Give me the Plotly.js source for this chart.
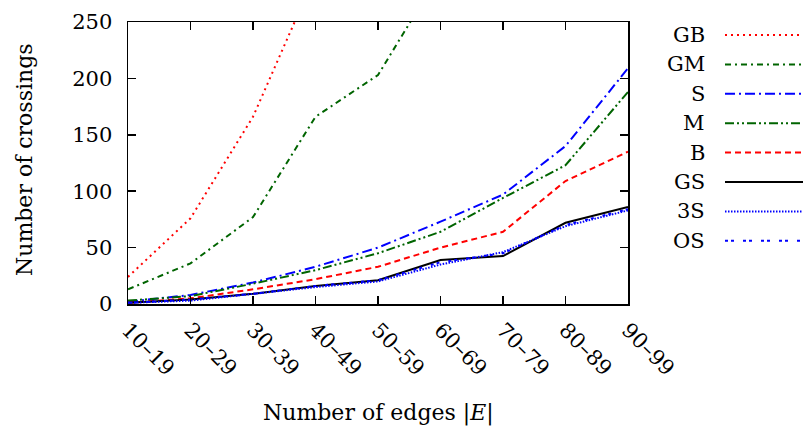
<!DOCTYPE html>
<html><head><meta charset="utf-8">
<script src="https://cdn.plot.ly/plotly-3.0.1.min.js"></script>
<style>body{margin:0;background:#fff}#c{width:804px;height:441px}</style>
</head><body><div id="c"></div>
<script>
const categories = ["10–19","20–29","30–39","40–49","50–59","60–69","70–79","80–89","90–99"];
const GB = [24, 76, 166, 292, null, null, null, null, null];
const GM = [13, 36, 77, 166, 203, 294, null, null, null];
const S  = [2, 8, 19, 33, 50, 73, 97, 140, 209];
const M  = [3, 7, 18, 30, 45, 64, 94, 123, 188];
const B  = [1, 5, 13, 22, 33, 50, 64, 109, 135];
const GS = [1, 4, 9, 16, 21, 39, 42.5, 72, 86];
const S3 = [1, 3, 9, 15, 20, 35, 46, 69, 83];
const OS = [1, 4, 9, 16, 21, 37, 45, 70, 84];

const seriesNames = ["GB","GM","S","M","B","GS","3S","OS"];
const seriesData = [GB, GM, S, M, B, GS, S3, OS];
const xTitle = "Number of edges |<i>E</i>|";
const yTitle = "Number of crossings";
const styles = [
  {color:"#ff0000", dash:"2px,4px", width:2},
  {color:"#006400", dash:"6px,4px,2px,4px", width:2},
  {color:"#0000ff", dash:"10px,4px,2px,4px", width:2},
  {color:"#006400", dash:"9px,3px,2px,3px,2px,3px", width:2},
  {color:"#ff0000", dash:"6px,4px", width:2},
  {color:"#000000", dash:"solid", width:2},
  {color:"#0000ff", dash:"1.5px,1.5px", width:2},
  {color:"#0000ff", dash:"3px,3px,3px,9px", width:2}
];

const traces = seriesData.map((d,i)=>({
  x: categories, y: d, type:"scatter", mode:"lines", name: seriesNames[i],
  line:{color:styles[i].color, dash:styles[i].dash, width:styles[i].width},
  connectgaps:false, showlegend:false
}));

const font = {family:"DejaVu Serif", size:21, color:"#000"};
const tfont = {family:"DejaVu Serif", size:22, color:"#000"};
const shapes = [], annotations = [];
const legTop = 35, legStep = 29.4;
seriesNames.forEach((n,i)=>{
  const ypx = legTop + i*legStep;
  const yp = (304 - ypx)/282;
  shapes.push({type:"line", xref:"paper", yref:"paper", x0:(725-128)/500, x1:(803-128)/500, y0:yp, y1:yp,
    line:{color:styles[i].color, dash:styles[i].dash, width:2}});
  annotations.push({xref:"paper", yref:"paper", x:(707-128)/500, y:yp, xanchor:"right", yanchor:"middle",
    text:n, showarrow:false, font:font});
});
annotations.push({xref:"paper", yref:"paper", x:0.5, y:(304-413)/282, xanchor:"center", yanchor:"middle",
  text:xTitle, showarrow:false, font:tfont});
annotations.push({xref:"paper", yref:"paper", x:(24-128)/500, y:(304-160)/282, xanchor:"center", yanchor:"middle",
  text:yTitle, textangle:-90, showarrow:false, font:tfont});

const layout = {
  width:804, height:441,
  margin:{l:128, r:176, t:22, b:137},
  paper_bgcolor:"#fff", plot_bgcolor:"#fff",
  font: font,
  showlegend:false,
  xaxis:{
    type:"category", range:[0,8], tickangle:45,
    ticks:"inside", ticklen:8, tickwidth:1.5, tickcolor:"#000",
    showline:true, linecolor:"#000", linewidth:1.5, mirror:"ticks",
    showgrid:false, zeroline:false, ticklabelstandoff:4,
    tickfont:font
  },
  yaxis:{
    range:[0,250], tickvals:[0,50,100,150,200,250],
    ticks:"inside", ticklen:8, tickwidth:1.5, tickcolor:"#000",
    showline:true, linecolor:"#000", linewidth:1.5, mirror:"ticks",
    showgrid:false, zeroline:false, ticklabelstandoff:10,
    tickfont:font
  },
  shapes: shapes,
  annotations: annotations
};
Plotly.newPlot("c", traces, layout, {displayModeBar:false, staticPlot:true});
</script></body></html>
